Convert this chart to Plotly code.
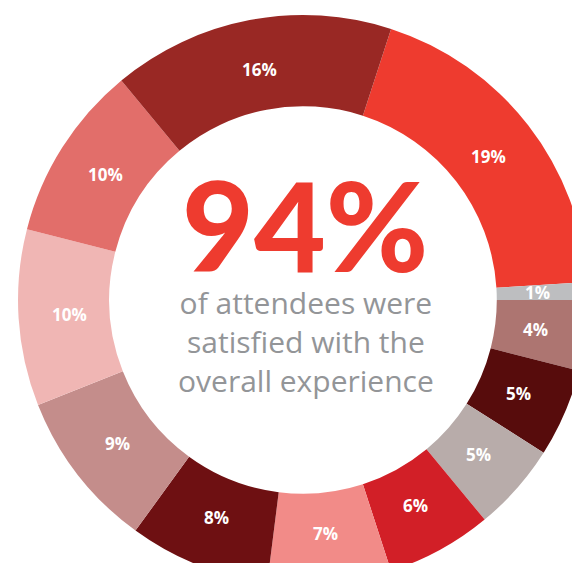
import math
import plotly.graph_objects as go

labels = ["A", "B", "C", "D", "E", "F", "G", "H", "I", "J", "K", "L"]
values = [19, 1, 4, 5, 5, 6, 7, 8, 9, 10, 10, 16]
colors = ["#EE3B2F", "#BDBEC0", "#AD7571", "#570C0C", "#B8ACAA", "#D21F27",
          "#F28B88", "#6E1012", "#C48D8B", "#F0B6B4", "#E26E6A", "#992824"]
headline = "94%"
subtitle = ["of attendees were", "satisfied with the", "overall experience"]

W, H = 590, 585
cx, cy, R = 295, 292, 279
RD = R / 0.979          # plotly draws the pie slightly inside its domain
HOLE = 0.68
ROT = 18

fig = go.Figure(go.Pie(
    labels=labels, values=values, sort=False, direction="clockwise",
    rotation=ROT, hole=HOLE,
    marker=dict(colors=colors, line=dict(width=0)),
    textinfo="none",
    domain=dict(x=[(cx - RD) / W, (cx + RD) / W], y=[1 - (cy + RD) / H, 1 - (cy - RD) / H]),
    showlegend=False, hoverinfo="skip",
))

# slice labels at the middle of the ring, along each slice's mid-angle
total = sum(values)
rmid = R * (1 + HOLE) / 2
cum = 0
for v in values:
    a = math.radians(ROT + (cum + v / 2) / total * 360)
    cum += v
    px = cx + rmid * math.sin(a)
    py = cy - rmid * math.cos(a)
    fig.add_annotation(text=f"{v}%", x=px / W, y=1 - py / H, xref="paper", yref="paper",
                       xanchor="center", yanchor="middle", showarrow=False,
                       font=dict(family="Open Sans", size=17, color="white", weight=700))

fig.add_annotation(text=headline, x=(cx + 2) / W, y=1 - 216 / H, xref="paper", yref="paper",
                   xanchor="center", yanchor="middle", showarrow=False, height=106,
                   font=dict(family="Lato", size=124, color="#EE3B2F", weight=900))
fig.add_annotation(text="<br>".join(subtitle), x=(cx + 3) / W, y=1 - 333 / H,
                   xref="paper", yref="paper", xanchor="center", yanchor="middle",
                   align="center", showarrow=False,
                   font=dict(family="Open Sans", size=30, color="#939598"))

fig.update_layout(width=W, height=H, margin=dict(l=0, r=0, t=0, b=0),
                  paper_bgcolor="white", plot_bgcolor="white")
fig.write_html("out.html")
